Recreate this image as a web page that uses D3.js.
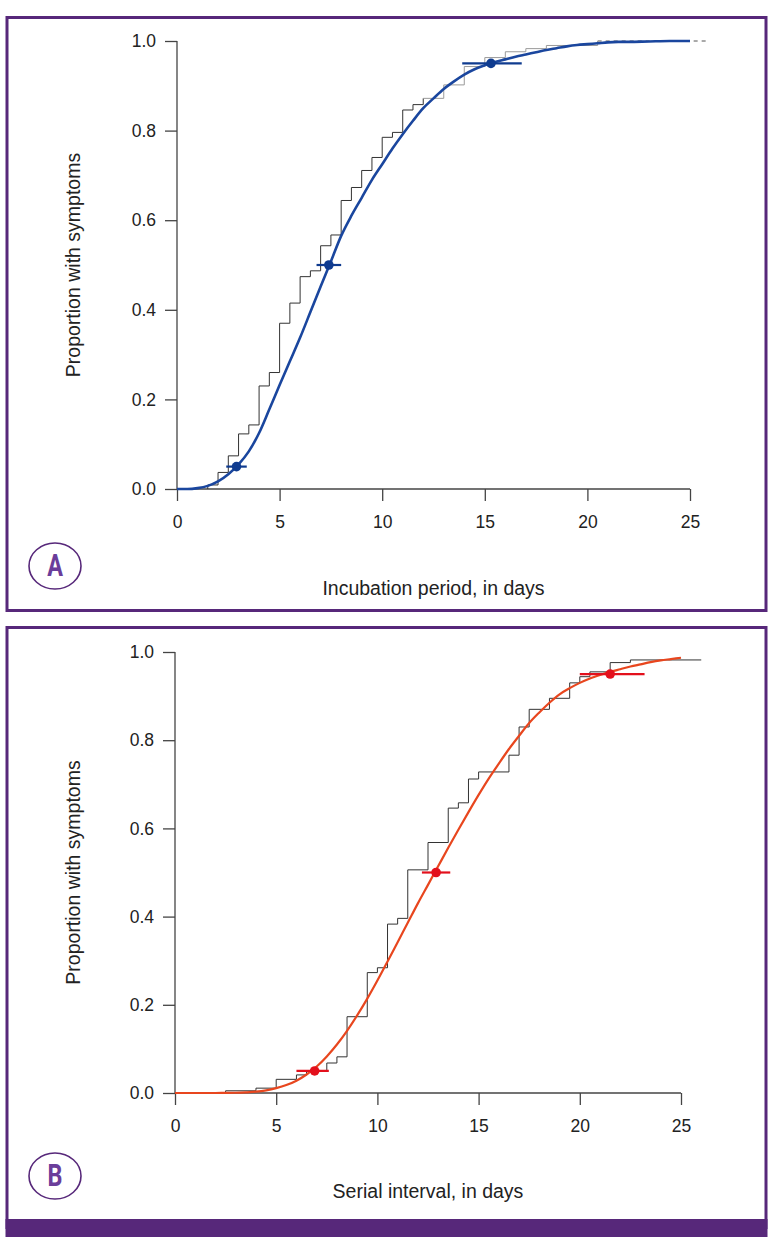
<!DOCTYPE html>
<html><head><meta charset="utf-8">
<script src="https://cdn.jsdelivr.net/npm/d3@7"></script>
<style>
html,body{margin:0;padding:0;background:#fff;}
svg{display:block;}
text{font-family:"Liberation Sans",Arial,sans-serif;fill:#222;}
</style></head><body>
<svg id="chart" width="783" height="1244"></svg>
<script>
// ---------- DATA ----------
const xTicks = [0, 5, 10, 15, 20, 25];
const yTicks = [0.0, 0.2, 0.4, 0.6, 0.8, 1.0];
const yTickLabels = ["0.0", "0.2", "0.4", "0.6", "0.8", "1.0"];

// Panel A: incubation period
const curveA_day  = [0,0.5,1,1.5,2,2.5,3,3.5,4,4.5,5,5.5,6,6.5,7,7.5,8,8.5,9,9.5,10,10.5,11,11.5,12,12.5,13,13.5,14,14.5,15,15.5,16,16.5,17,17.5,18,18.5,19,19.5,20,20.5,21,21.5,22,23,24,25];
const curveA_prop = [0,0,0.002,0.007,0.017,0.033,0.055,0.084,0.125,0.178,0.232,0.285,0.338,0.395,0.452,0.508,0.565,0.610,0.650,0.690,0.725,0.760,0.792,0.822,0.850,0.872,0.893,0.910,0.925,0.937,0.946,0.953,0.959,0.965,0.970,0.975,0.980,0.984,0.988,0.991,0.993,0.995,0.997,0.998,0.998,0.999,1.0,1.0];
const ecdfA_day  = [1.5,1.5,2.0,2.5,3.0,3.5,4.0,4.5,5.0,5.5,6.0,6.5,7.0,7.5,8.0,8.5,9.0,9.5,10.0,10.5,11.0,11.5,12.0,13.0,14.0,15.0,16.0,17.0,18.0,20.5];
const ecdfA_prop = [0,0.009,0.037,0.074,0.123,0.143,0.230,0.260,0.370,0.415,0.474,0.487,0.543,0.567,0.644,0.673,0.711,0.740,0.785,0.796,0.846,0.858,0.872,0.902,0.943,0.963,0.976,0.983,0.990,1.0];
const ecdfA_tailEnd = 25.8;
const pointsA_day  = [2.9, 7.4, 15.3];
const pointsA_prop = [0.05, 0.5, 0.95];
const pointsA_lo   = [2.4, 6.8, 13.9];
const pointsA_hi   = [3.4, 8.0, 16.8];

// Panel B: serial interval
const curveB_day  = [0,1,2,2.5,3,3.5,4,4.5,5,5.5,6,6.5,7,7.5,8,8.5,9,9.5,10,10.5,11,11.5,12,12.5,13,13.5,14,14.5,15,15.5,16,16.5,17,17.5,18,18.5,19,19.5,20,20.5,21,21.5,22,22.5,23,23.5,24,24.5,25];
const curveB_prop = [0,0,0,0.0002,0.0006,0.0015,0.003,0.006,0.011,0.018,0.028,0.042,0.060,0.083,0.110,0.141,0.176,0.214,0.255,0.298,0.342,0.386,0.430,0.472,0.514,0.556,0.597,0.637,0.676,0.713,0.747,0.780,0.810,0.839,0.863,0.885,0.904,0.918,0.930,0.940,0.948,0.955,0.961,0.967,0.972,0.977,0.981,0.984,0.987];
const ecdfB_day  = [2.5,2.5,4.0,5.0,6.0,6.5,7.5,8.0,8.5,9.5,10.0,10.5,11.0,11.5,12.5,13.5,14.0,14.5,15.0,16.5,17.0,17.5,18.5,19.5,20.0,20.5,21.5,22.5,26.0];
const ecdfB_prop = [0,0.005,0.011,0.031,0.041,0.050,0.068,0.082,0.173,0.273,0.284,0.383,0.396,0.506,0.568,0.646,0.658,0.712,0.728,0.766,0.830,0.870,0.895,0.930,0.944,0.955,0.976,0.982,0.982];
const pointsB_day  = [6.9, 12.9, 21.5];
const pointsB_prop = [0.05, 0.5, 0.95];
const pointsB_lo   = [6.0, 12.2, 20.0];
const pointsB_hi   = [7.6, 13.6, 23.2];

// ---------- DRAW ----------
const svg = d3.select("#chart");
const purple = "#57287a";
const FONT = '"Liberation Sans",Arial,sans-serif';

// frames
svg.append("rect").attr("x", 7).attr("y", 17.5).attr("width", 759).attr("height", 593)
  .attr("fill", "none").attr("stroke", purple).attr("stroke-width", 3);
svg.append("rect").attr("x", 7).attr("y", 627.5).attr("width", 759).attr("height", 600)
  .attr("fill", "none").attr("stroke", purple).attr("stroke-width", 3);
svg.append("rect").attr("x", 5.5).attr("y", 1219).attr("width", 762).attr("height", 18).attr("fill", purple);

function panel(cfg) {
  const x = d3.scaleLinear().domain([0, 25]).range(cfg.xr);
  const y = d3.scaleLinear().domain([0, 1]).range(cfg.yr);
  const g = svg.append("g");

  // axes
  const yAxis = d3.axisLeft(y).tickValues(yTicks).tickFormat((d, i) => yTickLabels[i]).tickSize(12).tickPadding(9);
  const ya = g.append("g").attr("transform", `translate(${cfg.xr[0]},0)`).call(yAxis);
  const xAxis = d3.axisBottom(x).tickValues(xTicks).tickSize(12).tickPadding(15);
  const xa = g.append("g").attr("transform", `translate(0,${cfg.yr[0]})`).call(xAxis);
  [ya, xa].forEach(a => {
    a.select(".domain").attr("d", a === ya
      ? `M0,${cfg.yr[0]}V${cfg.yr[1]}` : `M${cfg.xr[0]},0H${cfg.xr[1]}`)
      .attr("stroke", "#444").attr("stroke-width", 1.3);
    a.selectAll(".tick line").attr("stroke", "#444").attr("stroke-width", 1.3);
    a.selectAll(".tick text").attr("font-size", 17.5).attr("fill", "#222").style("font-family", FONT);
  });

  // ECDF
  const stepLine = d3.line().curve(d3.curveStepAfter).x(d => x(d[0])).y(d => y(d[1]));
  const ecdf = cfg.ecdfDay.map((d, i) => [d, cfg.ecdfProp[i]]);
  const split = cfg.ecdfSplit;
  const darkPart = ecdf.filter(d => d[0] <= split);
  const lightPart = ecdf.filter(d => d[0] >= split);
  g.append("path").attr("d", stepLine(darkPart)).attr("fill", "none").attr("stroke", "#333").attr("stroke-width", 1);
  if (lightPart.length > 1)
    g.append("path").attr("d", stepLine(lightPart)).attr("fill", "none").attr("stroke", cfg.lightColor).attr("stroke-width", 1);
  if (cfg.tailEnd) {
    const last = ecdf[ecdf.length - 1];
    g.append("line").attr("x1", x(last[0])).attr("x2", x(cfg.tailEnd))
      .attr("y1", y(last[1])).attr("y2", y(last[1]))
      .attr("stroke", "#555").attr("stroke-width", 1).attr("stroke-dasharray", "4,4");
  }

  // fitted curve
  const smooth = d3.line().curve(d3.curveMonotoneX).x(d => x(d[0])).y(d => y(d[1]));
  g.append("path").attr("d", smooth(cfg.curveDay.map((d, i) => [d, cfg.curveProp[i]])))
    .attr("fill", "none").attr("stroke", cfg.curveColor).attr("stroke-width", cfg.curveWidth);

  // points with intervals
  cfg.ptDay.forEach((d, i) => {
    g.append("line").attr("x1", x(cfg.ptLo[i])).attr("x2", x(cfg.ptHi[i]))
      .attr("y1", y(cfg.ptProp[i])).attr("y2", y(cfg.ptProp[i]))
      .attr("stroke", cfg.ptColor).attr("stroke-width", 2.2);
    g.append("circle").attr("cx", x(d)).attr("cy", y(cfg.ptProp[i])).attr("r", 4.8).attr("fill", cfg.ptColor);
  });

  // titles
  g.append("text").attr("transform", `translate(${cfg.ylabX},${(cfg.yr[0] + cfg.yr[1]) / 2}) rotate(-90)`)
    .attr("text-anchor", "middle").attr("dominant-baseline", "middle").attr("font-size", 19.5)
    .text("Proportion with symptoms");
  g.append("text").attr("x", (cfg.xr[0] + cfg.xr[1]) / 2).attr("y", cfg.xlabY)
    .attr("text-anchor", "middle").attr("dominant-baseline", "middle").attr("font-size", 19.5)
    .text(cfg.xlab);

  // panel letter
  g.append("ellipse").attr("cx", 55).attr("cy", cfg.letterY).attr("rx", 26).attr("ry", 23)
    .attr("fill", "none").attr("stroke", purple).attr("stroke-width", 1.6);
  g.append("text").attr("transform", `translate(55,${cfg.letterY + 1.5}) scale(0.78,1.05)`)
    .attr("text-anchor", "middle").attr("dominant-baseline", "middle")
    .attr("font-size", 30).attr("font-weight", "bold")
    .style("font-family", '"Roboto","Liberation Sans",sans-serif')
    .style("fill", "#6a3d9a").text(cfg.letter);
}

panel({
  xr: [177, 690], yr: [489, 41],
  ecdfDay: ecdfA_day, ecdfProp: ecdfA_prop, ecdfSplit: 12.0, lightColor: "#9a9a9a", tailEnd: ecdfA_tailEnd,
  curveDay: curveA_day, curveProp: curveA_prop, curveColor: "#1a469e", curveWidth: 2.6,
  ptDay: pointsA_day, ptProp: pointsA_prop, ptLo: pointsA_lo, ptHi: pointsA_hi, ptColor: "#0f3b8f",
  ylabX: 75, xlabY: 590, xlab: "Incubation period, in days", letter: "A", letterY: 566
});
panel({
  xr: [175, 681], yr: [1093, 652],
  ecdfDay: ecdfB_day, ecdfProp: ecdfB_prop, ecdfSplit: 30, lightColor: "#9a9a9a", tailEnd: null,
  curveDay: curveB_day, curveProp: curveB_prop, curveColor: "#e8461e", curveWidth: 2.2,
  ptDay: pointsB_day, ptProp: pointsB_prop, ptLo: pointsB_lo, ptHi: pointsB_hi, ptColor: "#e3101c",
  ylabX: 75, xlabY: 1193, xlab: "Serial interval, in days", letter: "B", letterY: 1176
});
</script>
</body></html>
